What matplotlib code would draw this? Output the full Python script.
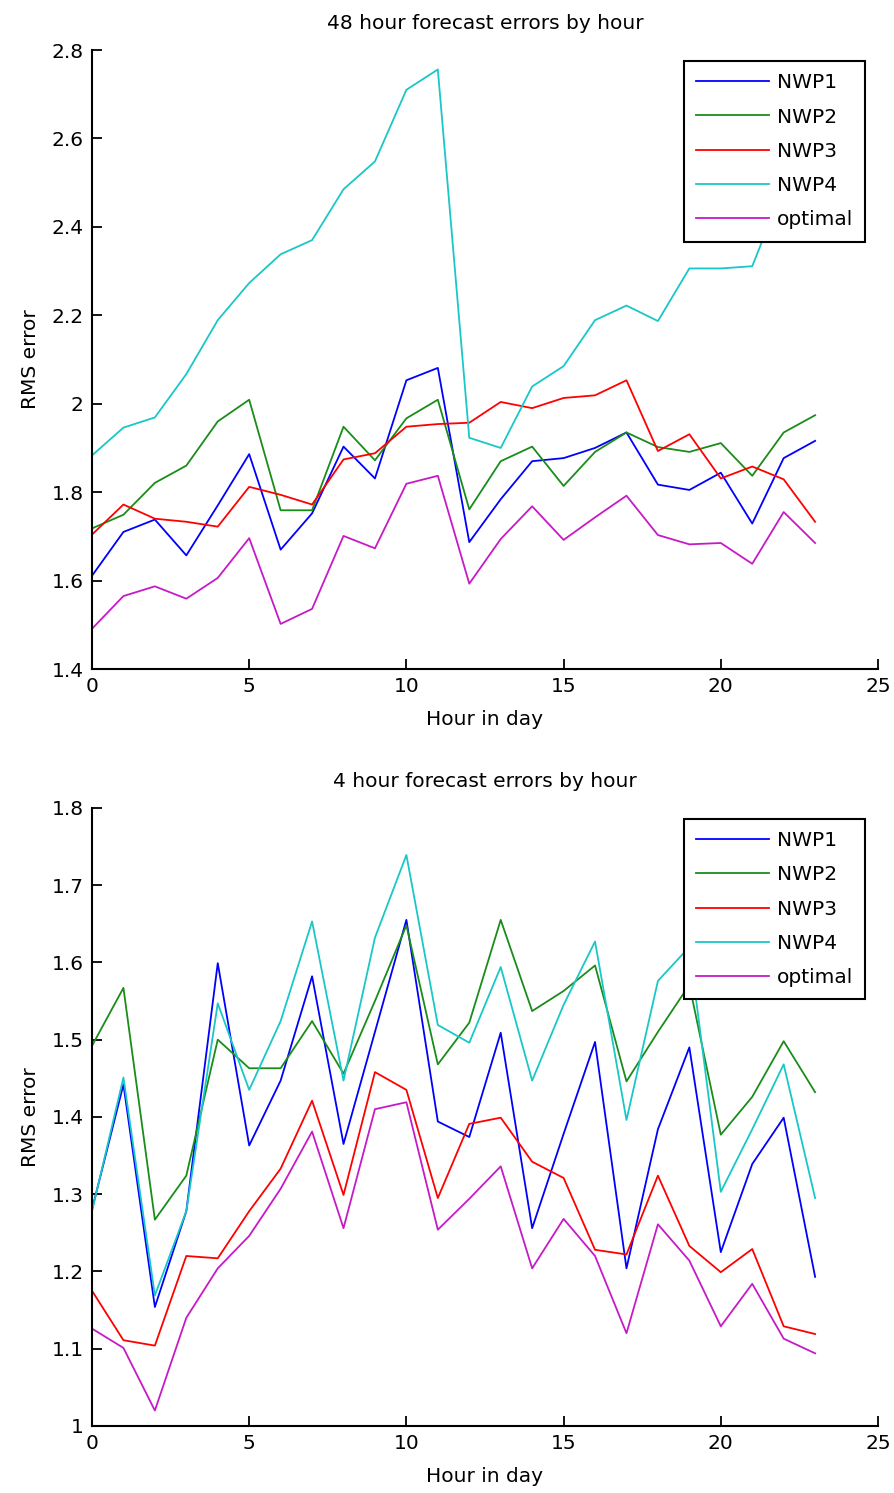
import numpy as np
import matplotlib
matplotlib.use("Agg")
import matplotlib.pyplot as plt
from matplotlib.ticker import FuncFormatter

# hour of day
hours = np.arange(24)

# 48 hour forecast RMS errors
nwp1_48 = [1.611, 1.710, 1.738, 1.657, 1.770, 1.886, 1.670, 1.752, 1.903, 1.831,
           2.053, 2.081, 1.687, 1.784, 1.870, 1.877, 1.900, 1.935, 1.817, 1.805,
           1.844, 1.729, 1.877, 1.916]
nwp2_48 = [1.718, 1.749, 1.821, 1.860, 1.960, 2.009, 1.759, 1.759, 1.948, 1.872,
           1.967, 2.009, 1.761, 1.870, 1.903, 1.814, 1.891, 1.935, 1.902, 1.891,
           1.911, 1.837, 1.935, 1.974]
nwp3_48 = [1.704, 1.772, 1.740, 1.733, 1.722, 1.812, 1.794, 1.772, 1.874, 1.888,
           1.948, 1.954, 1.957, 2.004, 1.990, 2.013, 2.019, 2.053, 1.893, 1.931,
           1.831, 1.858, 1.829, 1.733]
nwp4_48 = [1.883, 1.946, 1.969, 2.067, 2.189, 2.273, 2.338, 2.370, 2.485, 2.548,
           2.710, 2.756, 1.923, 1.900, 2.039, 2.085, 2.189, 2.222, 2.187, 2.306,
           2.306, 2.311, 2.490, 2.580]
opt_48 = [1.491, 1.565, 1.587, 1.559, 1.606, 1.696, 1.502, 1.536, 1.701, 1.673,
          1.819, 1.837, 1.593, 1.694, 1.768, 1.692, 1.743, 1.792, 1.703, 1.682,
          1.685, 1.638, 1.755, 1.685]

# 4 hour forecast RMS errors
nwp1_4 = [1.280, 1.442, 1.154, 1.278, 1.599, 1.363, 1.447, 1.582, 1.365, 1.510,
          1.655, 1.394, 1.374, 1.509, 1.256, 1.378, 1.497, 1.204, 1.384, 1.490,
          1.225, 1.339, 1.399, 1.193]
nwp2_4 = [1.492, 1.567, 1.267, 1.324, 1.500, 1.463, 1.463, 1.524, 1.456, 1.550,
          1.648, 1.468, 1.522, 1.655, 1.537, 1.563, 1.596, 1.446, 1.510, 1.571,
          1.377, 1.426, 1.498, 1.432]
nwp3_4 = [1.175, 1.111, 1.104, 1.220, 1.217, 1.278, 1.333, 1.421, 1.299, 1.458,
          1.435, 1.295, 1.391, 1.399, 1.342, 1.321, 1.228, 1.222, 1.324, 1.233,
          1.199, 1.229, 1.129, 1.119]
nwp4_4 = [1.278, 1.451, 1.169, 1.278, 1.547, 1.435, 1.524, 1.653, 1.447, 1.632,
          1.739, 1.519, 1.496, 1.594, 1.447, 1.545, 1.627, 1.396, 1.576, 1.620,
          1.303, 1.384, 1.468, 1.295]
opt_4 = [1.126, 1.101, 1.020, 1.140, 1.204, 1.246, 1.307, 1.381, 1.256, 1.410,
         1.419, 1.254, 1.294, 1.336, 1.204, 1.268, 1.220, 1.120, 1.261, 1.214,
         1.129, 1.184, 1.113, 1.094]

labels = ["NWP1", "NWP2", "NWP3", "NWP4", "optimal"]
colors = [(0, 0, 1), (0.1, 0.55, 0.1), (1, 0, 0), (0.1, 0.78, 0.78), (0.78, 0.1, 0.78)]

plt.rcParams['font.family'] = ['DejaVu Sans']
plt.rcParams['font.size'] = 14.5


def drawPanel(ax, series, title, yticks):
    """Draws one MATLAB-style panel of RMS errors by hour."""
    for s, lab, c in zip(series, labels, colors):
        ax.plot(hours, s, color=c, lw=1.3, label=lab)

    ax.set_xlim(0, 25)
    ax.set_ylim(yticks[0], yticks[-1])
    ax.set_xticks([0, 5, 10, 15, 20, 25])
    ax.set_yticks(yticks)
    ax.yaxis.set_major_formatter(FuncFormatter(lambda v, p: "%g" % round(v, 2)))

    # only left and bottom axis lines, ticks pointing inward
    ax.spines['top'].set_visible(False)
    ax.spines['right'].set_visible(False)
    ax.spines['left'].set_linewidth(1.5)
    ax.spines['bottom'].set_linewidth(1.5)
    ax.tick_params(direction='in', length=7, width=1.3, pad=6, colors='black')

    ax.set_title(title, fontsize=14.5, pad=15)
    ax.set_xlabel("Hour in day", labelpad=10)
    ax.set_ylabel("RMS error", labelpad=8)

    leg = ax.legend(loc='upper right', bbox_to_anchor=(0.9835, 0.982),
                    borderaxespad=0, fancybox=False, framealpha=1,
                    handlelength=3.6, handletextpad=0.4, labelspacing=0.76,
                    borderpad=0.6, fontsize=14.5)
    leg.get_frame().set_edgecolor('black')
    leg.get_frame().set_linewidth(1.5)


fig = plt.figure(figsize=(8.94, 14.93), dpi=100)
ax1 = fig.add_axes([0.1029, 0.5519, 0.8792, 0.4146])
ax2 = fig.add_axes([0.1029, 0.0449, 0.8792, 0.4140])

drawPanel(ax1, [nwp1_48, nwp2_48, nwp3_48, nwp4_48, opt_48],
          "48 hour forecast errors by hour", np.round(np.arange(1.4, 2.81, 0.2), 1))
drawPanel(ax2, [nwp1_4, nwp2_4, nwp3_4, nwp4_4, opt_4],
          "4 hour forecast errors by hour", np.round(np.arange(1.0, 1.81, 0.1), 1))

fig.savefig("out.png", dpi=100)
